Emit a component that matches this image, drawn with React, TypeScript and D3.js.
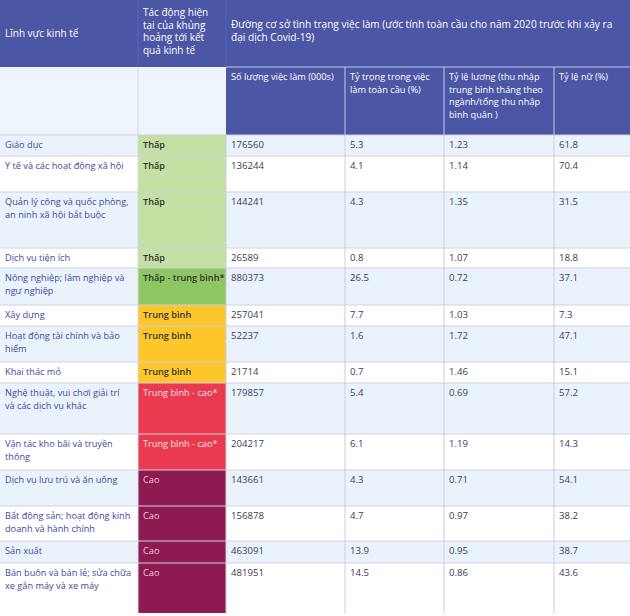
import React from "react";
import * as d3 from "d3";

const sectors = [
  "Giáo dục",
  "Y tế và các hoạt động xã hội",
  "Quản lý công và quốc phòng,\nan ninh xã hội bắt buộc",
  "Dịch vụ tiện ích",
  "Nông nghiệp; lâm nghiệp và\nngư nghiệp",
  "Xây dựng",
  "Hoạt động tài chính và bảo\nhiểm",
  "Khai thác mỏ",
  "Nghệ thuật, vui chơi giải trí\nvà các dịch vụ khác",
  "Vận tác kho bãi và truyền\nthông",
  "Dịch vụ lưu trú và ăn uống",
  "Bất động sản; hoạt động kinh\ndoanh và hành chính",
  "Sản xuất",
  "Bán buôn và bán lẻ; sửa chữa\nxe gắn máy và xe máy",
];
const impacts = [
  "Thấp", "Thấp", "Thấp", "Thấp", "Thấp - trung bình*",
  "Trung bình", "Trung bình", "Trung bình",
  "Trung bình - cao*", "Trung bình - cao*",
  "Cao", "Cao", "Cao", "Cao",
];
const jobs = ["176560", "136244", "144241", "26589", "880373", "257041", "52237", "21714", "179857", "204217", "143661", "156878", "463091", "481951"];
const shares = ["5.3", "4.1", "4.3", "0.8", "26.5", "7.7", "1.6", "0.7", "5.4", "6.1", "4.3", "4.7", "13.9", "14.5"];
const wages = ["1.23", "1.14", "1.35", "1.07", "0.72", "1.03", "1.72", "1.46", "0.69", "1.19", "0.71", "0.97", "0.95", "0.86"];
const females = ["61.8", "70.4", "31.5", "18.8", "37.1", "7.3", "47.1", "15.1", "57.2", "14.3", "54.1", "38.2", "38.7", "43.6"];

const headMain = ["Lĩnh vực kinh tế", "Tác động hiện\ntại của khủng\nhoảng tới kết\nquả kinh tế", "Đường cơ sở tình trạng việc làm (ước tính toàn cầu cho năm 2020 trước khi xảy ra\nđại dịch Covid-19)"];
const headSub = ["Số lượng việc làm (000s)", "Tỷ trọng trong việc\nlàm toàn cầu (%)", "Tỷ lệ lương (thu nhập\ntrung bình tháng theo\nngành/tổng thu nhập\nbình quân )", "Tỷ lệ nữ (%)"];

const impactLevels = ["Thấp", "Thấp - trung bình*", "Trung bình", "Trung bình - cao*", "Cao"];

// layout
const W = 630;
const colEdges = [0, 138, 226, 345, 444, 554, 630];
const rowHeights = [21, 36, 56, 20, 37, 21, 36, 21, 51, 36, 36, 35, 22, 50];
const head1H = 67;
const head2H = 68;

export default function App() {
  const fillScale = d3.scaleOrdinal<string, string>().domain(impactLevels)
    .range(["#c4e0a3", "#8dc663", "#fdc72c", "#e93a4f", "#8d1a50"]);
  const textScale = d3.scaleOrdinal<string, string>().domain(impactLevels)
    .range(["#333333", "#333333", "#333333", "#fde4e8", "#f3cfdc"]);
  const weightScale = d3.scaleOrdinal<string, number>().domain(impactLevels)
    .range([600, 600, 600, 400, 400]);

  const bodyTop = head1H + head2H;
  const ends = Array.from(d3.cumsum(rowHeights));
  const rowY = rowHeights.map((_, i) => bodyTop + (i === 0 ? 0 : ends[i - 1]));
  const bodyBottom = bodyTop + ends[ends.length - 1];

  const headerBlue = "#4b56a5";
  const font = "'Open Sans', 'Noto Sans', sans-serif";
  const fs = 9.6;
  const lfs = 9.2;
  const lh = 13;

  const lines = (s: string, x: number, y: number, fill: string, weight = 400, size = fs, lineH = lh, key = "") =>
    s.split("\n").map((t, k) => (
      <text key={key + k} x={x} y={y + k * lineH} fill={fill} fontWeight={weight} fontSize={size} fontFamily={font}>{t}</text>
    ));

  const valueCols = [jobs, shares, wages, females];

  return (
    <div style={{ position: "absolute", left: 0, top: 0 }}>
      <svg width={630} height={616} style={{ display: "block", background: "#fff" }}>
        {/* header row 1 */}
        <rect x={0} y={0} width={W} height={head1H} fill={headerBlue} />
        {/* header row 2 */}
        <rect x={0} y={head1H} width={colEdges[2]} height={head2H} fill="#eef5fb" />
        <rect x={colEdges[2]} y={head1H} width={W - colEdges[2]} height={head2H} fill={headerBlue} />
        <line x1={colEdges[2]} x2={W} y1={head1H} y2={head1H} stroke="#c6cbe6" strokeWidth={1} />
        {[3, 4, 5].map((c) => (
          <line key={"hv" + c} x1={colEdges[c]} x2={colEdges[c]} y1={head1H} y2={bodyTop} stroke="#c6cbe6" strokeWidth={1} />
        ))}
        <line x1={colEdges[1]} x2={colEdges[1]} y1={0} y2={head1H} stroke="#5d67b0" strokeWidth={1} />
        <line x1={colEdges[2]} x2={colEdges[2]} y1={0} y2={head1H} stroke="#5d67b0" strokeWidth={1} />
        <line x1={colEdges[1]} x2={colEdges[1]} y1={head1H} y2={bodyTop} stroke="#d4dae8" strokeWidth={1} />
        {lines(headMain[0], 5, 37, "#ffffff", 400, 10, lh, "h0")}
        {lines(headMain[1], 143, 16, "#ffffff", 400, 10, 12.6, "h1")}
        {lines(headMain[2], 231, 28, "#ffffff", 400, 10.1, 13, "h2")}
        {headSub.map((h, i) => lines(h, colEdges[i + 2] + 5, head1H + 13, "#ffffff", 400, 9.2, 12.6, "hs" + i))}

        {/* body rows */}
        {sectors.map((s, i) => (
          <g key={"r" + i}>
            <rect x={0} y={rowY[i]} width={W} height={rowHeights[i]} fill={i % 2 === 0 ? "#eaf3fb" : "#ffffff"} />
            <rect x={colEdges[1]} y={rowY[i]} width={colEdges[2] - colEdges[1]} height={rowHeights[i]} fill={fillScale(impacts[i])} />
            {lines(s, 5, rowY[i] + 13, "#3f48a0", 400, lfs, lh, "s" + i)}
            {lines(impacts[i], 143, rowY[i] + 13, textScale(impacts[i]), weightScale(impacts[i]), lfs, lh, "im" + i)}
            {valueCols.map((col, c) => (
              <text key={"v" + c} x={colEdges[c + 2] + 5} y={rowY[i] + 13} fill="#3c3c55" fontSize={fs} fontFamily={font}>{col[i]}</text>
            ))}
          </g>
        ))}
        {/* horizontal grid lines */}
        {rowY.map((y, i) => (
          <line key={"hl" + i} x1={0} x2={W} y1={y} y2={y} stroke="#cdd2e2" strokeWidth={1.2} />
        ))}
        {/* vertical grid lines */}
        {[2, 3, 4, 5].map((c) => (
          <line key={"vl" + c} x1={colEdges[c]} x2={colEdges[c]} y1={bodyTop} y2={bodyBottom} stroke="#c9cde0" strokeWidth={1} />
        ))}
        <line x1={colEdges[1]} x2={colEdges[1]} y1={bodyTop} y2={bodyBottom} stroke="#d4dae8" strokeWidth={1} />
      </svg>
    </div>
  );
}
